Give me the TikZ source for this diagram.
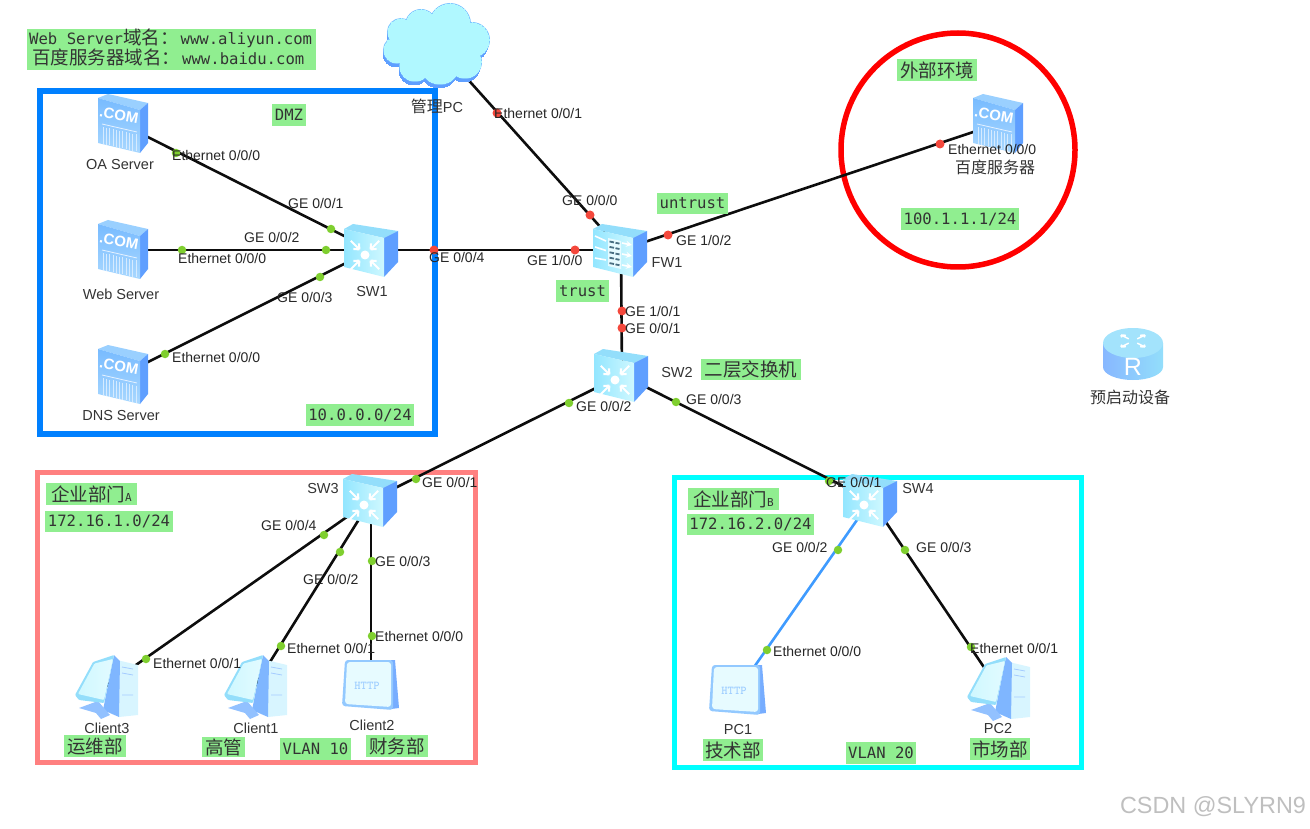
\documentclass[tikz,border=0pt]{standalone}
\usepackage{fontspec}
\setmainfont{Liberation Sans}
\newfontfamily\cjkfont{Noto Sans CJK SC}
\newfontfamily\tagfont{DejaVu Sans Mono}
\usepackage{tikz}
\usetikzlibrary{positioning}

\definecolor{dmzblue}{HTML}{0080FF}
\definecolor{outred}{HTML}{FF0000}
\definecolor{deptpink}{HTML}{FF8080}
\definecolor{deptcyan}{HTML}{00FFFF}
\definecolor{taggreen}{HTML}{90EE90}
\definecolor{portgreen}{HTML}{7FCF2F}
\definecolor{portred}{HTML}{F4483C}
\definecolor{linkblue}{HTML}{3F9BFF}
\definecolor{sideblue}{HTML}{5F9FFF}
\definecolor{topblue}{HTML}{93DEFB}
\definecolor{faceblue}{HTML}{93E6FF}
\definecolor{facepale}{HTML}{CFF8FF}
\definecolor{srvtop}{HTML}{9AD0FF}
\definecolor{srvface}{HTML}{78BBFF}
\definecolor{srvpale}{HTML}{A9D8FF}
\definecolor{pcpale}{HTML}{D8F5FF}
\definecolor{pcmid}{HTML}{7FB6FF}
\definecolor{cloudfill}{HTML}{B0F8FF}
\definecolor{cloudedge}{HTML}{80C6FF}

\newcommand\zh[1]{{\cjkfont\fontsize{18.5}{20}\selectfont #1}}
\newcommand\zhcap[1]{{\cjkfont\fontsize{16}{16}\selectfont #1}}

\tikzset
    { chassis/.pic={
        \path[fill=topblue] (-28,-21) -- (-19,-26) -- (26,-19) -- (12,-12) -- cycle;
        \path[fill=sideblue] (12,-12) -- (26,-19) -- (26,12) -- (12,27) -- cycle;
        \path[left color=faceblue, right color=facepale] (-28,-21) -- (12,-12) -- (12,27) -- (-28,17) -- cycle;
      }
    , switchicon/.pic={
        \pic {chassis};
        \fill[white] (-7,5) circle (4.5);
        \foreach \a in {45,135,225,315}
            \draw[white, line width=2.1, shift={(-7,5)}, rotate=\a] (8,0) -- (20,0) (8,0) -- (12.5,4) (8,0) -- (12.5,-4);
      }
    , firewallicon/.pic={
        \pic {chassis};
        \fill[facepale!50!white] (-13,-12) -- (0,-9) -- (0,19) -- (-13,16) -- cycle;
        \foreach \r in {0,1,2,3,4}
            \draw[black!55!cyan, line width=1.8] (-11.5,-8.5+5.4*\r) -- (-7,-7.6+5.4*\r) (-5.5,-7.2+5.4*\r) -- (-1.5,-6.4+5.4*\r);
        \foreach \r in {0,1,2}
            \draw[white, line width=1.6, ->, >=stealth] (-26,-14+11*\r) -- (-15,-9+9.5*\r)
                                                         (1,-7+11*\r) -- (11,-5+11*\r);
      }
    , servericon/.pic={
        \path[fill=srvtop] (-24,-26) -- (-14,-30) -- (26,-21) -- (18,-14) -- cycle;
        \path[fill=sideblue] (18,-14) -- (26,-21) -- (26,19) -- (18,29) -- cycle;
        \path[top color=srvface, bottom color=srvpale] (-24,-26) -- (18,-14) -- (18,29) -- (-24,19) -- cycle;
        \node[white, rotate=-10, inner sep=0, font=\bfseries\fontsize{15}{15}\selectfont] (comtext) at (-3,-9) {.COM};
        \draw[white!80!srvface, line width=.8] (-20,0) -- (15,8);
        \foreach \s in {0,...,10}
            \draw[white!70!srvface, line width=.8] (-19+3.3*\s,3+.75*\s) -- (-19+3.3*\s,20+.75*\s);
      }
    , pcicon/.pic={
        \path[fill=pcpale] (11,-26) -- (32,-21) -- (32,29) -- (13,31) -- cycle;
        \draw[pcmid!70!white, line width=.8] (16,-19) -- (27,-17) (16,-13) -- (27,-11) (16,9) -- (27,9);
        \path[fill=pcmid] (8,-31) -- (14,-25) -- (13,31) -- (-3,24) -- cycle;
        \path[fill=pcmid!85!white] (-27,22) -- (-8,15) -- (4,29) -- (-5,33) -- (-10,27) -- cycle;
        \path[fill=topblue, rounded corners=1] (-31,9) -- (-13,-24) -- (8,-31) -- (-2,17) -- (-27,14) -- cycle;
        \path[left color=facepale, right color=facepale!60!white, rounded corners=1] (-28,8) -- (-11.5,-22.5) -- (7,-27) -- (-2,14) -- cycle;
      }
    , httpicon/.pic={
        \path[fill=sideblue!85!white] (20,-25) -- (24,-25) -- (28,23) -- (20,24) -- cycle;
        \path[fill=srvface!80!white, rounded corners=3] (-26,-25) -- (22,-25) -- (22,25) -- (-29,21) -- cycle;
        \path[fill=facepale!50!white, rounded corners=3] (-24,-23) -- (20,-23) -- (20,22) -- (-26,19) -- cycle;
        \node[srvface!70!white, inner sep=0, font=\ttfamily\bfseries\fontsize{12}{12}\selectfont] (httptext) at (-4,1) {HTTP};
      }
    , cloudicon/.pic={
        \foreach \dx/\dy/\col/\wid in {-1/4/sideblue/0,0/0/cloudedge/2,0/0/cloudfill/0}
            \foreach \cx/\cy/\r in {13/-21/20,-16/-20/15,-36/-13/13,-40/5/13,-22/21/15,3/20/19,28/17/16,35/-5/17,0/0/30}
                \path[fill=\col, draw=\col, line width=\wid] (\cx+\dx,\cy+\dy) circle (\r);
      }
    , routericon/.pic={
        \path[left color=sideblue!75!white, right color=topblue] (-30,-11) -- (-30,13) arc[start angle=180, end angle=0, x radius=30, y radius=13] -- (30,-11) -- cycle;
        \path[fill=topblue!85!white] (0,-11) ellipse [x radius=30, y radius=15];
        \foreach \a in {45,135,225,315}
            \draw[white, line width=1.5, yscale=.5, shift={(0,-26)}, rotate=\a] (6,0) -- (17,0) (17,0) -- (13,3) (17,0) -- (13,-3);
        \node[white, inner sep=0, font=\fontsize{25}{25}\selectfont] (rtext) at (0,13) {R};
      }
    }

\begin{document}
\begin{tikzpicture}
        [ x=1pt, y=-1pt
        , device/.style={inner sep=0, minimum width=#1, minimum height=#1}
        , link/.style={draw=black!95, line width=2.6}
        , greendot/.style={circle, fill=portgreen, inner sep=0, minimum size=8.5}
        , reddot/.style={circle, fill=portred, inner sep=0, minimum size=9}
        , portlabel/.style={anchor=west, inner sep=0, text=black!85, font=\fontsize{14}{16}\selectfont}
        , caption/.style={inner sep=0, text=black!80, font=\fontsize{14.5}{16}\selectfont}
        , tagbox/.style={fill=taggreen, inner sep=0, text=black!80, font=\tagfont\fontsize{15.6}{20}\selectfont}
        , frame/.style={draw=#1, line width=5.5}
        ]
                \useasboundingbox (0,0) rectangle (1310,829);

                \node[frame=dmzblue, inner sep=0, minimum width=395, minimum height=343] (dmzframe) at (237.5,262.5) {};
                \node[frame=deptpink, inner sep=0, minimum width=438, minimum height=290] (aframe) at (256.5,617.5) {};
                \node[frame=deptcyan, inner sep=0, minimum width=407, minimum height=290] (bframe) at (878,622.5) {};
                \node[circle, frame=outred, inner sep=0, minimum size=234] (outframe) at (958,150) {};

                \node[device=52, minimum height=58] (oa) at (122,124) {};
                \node[device=52, minimum height=58] (web) at (122,250) {};
                \node[device=52, minimum height=58] (dns) at (122,375) {};
                \node[device=52, minimum height=58] (baidu) at (997,124) {};
                \node[device=54] (sw1) at (372,250) {};
                \node[device=54] (fw1) at (621,250) {};
                \node[device=54] (sw2) at (622,375) {};
                \node[device=54] (sw3) at (371,500) {};
                \node[device=54] (sw4) at (871,500) {};
                \node[device=62] (client3) at (106,686) {};
                \node[device=62] (client1) at (255,686) {};
                \node[device=50] (client2) at (371,685) {};
                \node[device=50] (pc1) at (738,690) {};
                \node[device=62] (pc2) at (998,688) {};
                \node[device=70, minimum width=106] (cloud) at (437,45) {};
                \node[device=52, minimum width=60] (router) at (1133,354) {};

                \draw[link] (oa.center) -- (sw1.center);
                \draw[link] (web.center) -- (sw1.center);
                \draw[link] (dns.center) -- (sw1.center);
                \draw[link] (sw1.center) -- (fw1.center);
                \draw[link] (cloud.center) -- (fw1.center);
                \draw[link] (fw1.center) -- (baidu.center);
                \draw[link] (fw1.center) -- (sw2.center);
                \draw[link] (sw2.center) -- (sw3.center);
                \draw[link] (sw2.center) -- (sw4.center);
                \draw[link] (sw3.center) -- (client3.center);
                \draw[link] (sw3.center) -- (client1.center);
                \draw[link] (sw3.center) -- (client2.center);
                \draw[link, draw=linkblue] (sw4.center) -- (pc1.center);
                \draw[link] (sw4.center) -- (pc2.center);

                \pic at (oa) {servericon};
                \pic at (web) {servericon};
                \pic at (dns) {servericon};
                \pic at (baidu) {servericon};
                \pic at (sw1) {switchicon};
                \pic at (fw1) {firewallicon};
                \pic at (sw2) {switchicon};
                \pic at (sw3) {switchicon};
                \pic at (sw4) {switchicon};
                \pic at (client3) {pcicon};
                \pic at (client1) {pcicon};
                \pic at (client2) {httpicon};
                \pic at (pc1) {httpicon};
                \pic at (pc2) {pcicon};
                \pic at (cloud) {cloudicon};
                \pic at (router) {routericon};

                \node[greendot] (d1) at (176,153) {};
                \node[greendot] (d2) at (331,229) {};
                \node[greendot] (d3) at (182,250) {};
                \node[greendot] (d4) at (326,250) {};
                \node[greendot] (d5) at (320,277) {};
                \node[greendot] (d6) at (165,354) {};
                \node[greendot] (d7) at (569,403) {};
                \node[greendot] (d8) at (676,402) {};
                \node[greendot] (d9) at (416,479) {};
                \node[greendot] (d10) at (324,535) {};
                \node[greendot] (d11) at (340,552) {};
                \node[greendot] (d12) at (372,561) {};
                \node[greendot] (d13) at (146,659) {};
                \node[greendot] (d14) at (281,646) {};
                \node[greendot] (d15) at (372,636) {};
                \node[greendot] (d16) at (829,481) {};
                \node[greendot] (d17) at (838,550) {};
                \node[greendot] (d18) at (905,550) {};
                \node[greendot] (d19) at (767,650) {};
                \node[greendot] (d20) at (971,647) {};
                \node[reddot] (r1) at (497,113) {};
                \node[reddot] (r2) at (590,215) {};
                \node[reddot] (r3) at (434,250) {};
                \node[reddot] (r4) at (575,250) {};
                \node[reddot] (r5) at (668,235) {};
                \node[reddot] (r6) at (622,311) {};
                \node[reddot] (r7) at (622,328) {};
                \node[reddot] (r8) at (940,144) {};

                \node[portlabel] (p1) at (172,155) {Ethernet 0/0/0};
                \node[portlabel] (p2) at (288,203) {GE 0/0/1};
                \node[portlabel] (p3) at (244,237) {GE 0/0/2};
                \node[portlabel] (p4) at (178,258) {Ethernet 0/0/0};
                \node[portlabel] (p5) at (277,297) {GE 0/0/3};
                \node[portlabel] (p6) at (172,357) {Ethernet 0/0/0};
                \node[portlabel] (p7) at (429,257) {GE 0/0/4};
                \node[portlabel] (p8) at (527,260) {GE 1/0/0};
                \node[portlabel] (p9) at (562,200) {GE 0/0/0};
                \node[portlabel] (p10) at (676,240) {GE 1/0/2};
                \node[portlabel] (p11) at (625,311) {GE 1/0/1};
                \node[portlabel] (p12) at (625,328) {GE 0/0/1};
                \node[portlabel] (p13) at (494,113) {Ethernet 0/0/1};
                \node[portlabel] (p14) at (948,149) {Ethernet 0/0/0};
                \node[portlabel] (p15) at (576,406) {GE 0/0/2};
                \node[portlabel] (p16) at (686,399) {GE 0/0/3};
                \node[portlabel] (p17) at (422,482) {GE 0/0/1};
                \node[portlabel] (p18) at (261,525) {GE 0/0/4};
                \node[portlabel] (p19) at (303,579) {GE 0/0/2};
                \node[portlabel] (p20) at (375,561) {GE 0/0/3};
                \node[portlabel] (p21) at (153,663) {Ethernet 0/0/1};
                \node[portlabel] (p22) at (287,648) {Ethernet 0/0/1};
                \node[portlabel] (p23) at (375,636) {Ethernet 0/0/0};
                \node[portlabel] (p24) at (826,482) {GE 0/0/1};
                \node[portlabel] (p25) at (772,547) {GE 0/0/2};
                \node[portlabel] (p26) at (916,547) {GE 0/0/3};
                \node[portlabel] (p27) at (773,651) {Ethernet 0/0/0};
                \node[portlabel] (p28) at (970,648) {Ethernet 0/0/1};

                \node[caption] (oaname) at (120,165) {OA Server};
                \node[caption] (webname) at (121,294) {Web Server};
                \node[caption] (dnsname) at (121,416) {DNS Server};
                \node[caption] (sw1name) at (372,292) {SW1};
                \node[caption] (fw1name) at (667,263) {FW1};
                \node[caption] (sw2name) at (677,373) {SW2};
                \node[caption] (sw3name) at (323,489) {SW3};
                \node[caption] (sw4name) at (918,489) {SW4};
                \node[caption] (client3name) at (107,728) {Client3};
                \node[caption] (client1name) at (256,728) {Client1};
                \node[caption] (client2name) at (372,725) {Client2};
                \node[caption] (pc1name) at (738,730) {PC1};
                \node[caption] (pc2name) at (998,729) {PC2};
                \node[caption] (cloudname) at (437,106) {\zhcap{管理}PC};
                \node[caption] (baiduname) at (995,167) {\zhcap{百度服务器}};
                \node[caption] (routername) at (1130,397) {\zhcap{预启动设备}};

                \node[tagbox, minimum width=289, minimum height=41] (domains) at (171.5,49.5) {};
                \node[tagbox, fill=none, anchor=west, align=left] (domaintext) at (29,47.5) {Web Server\zh{域名：}\hspace{2pt}www.aliyun.com\\\hspace{3pt}\zh{百度服务器域名：}\hspace{2pt}www.baidu.com};
                \node[tagbox, minimum width=34, minimum height=22] (dmz) at (289,115) {DMZ};
                \node[tagbox, minimum width=71, minimum height=21] (untrust) at (692.5,203.5) {untrust};
                \node[tagbox, minimum width=53, minimum height=22] (trust) at (582.5,291) {trust};
                \node[tagbox, minimum width=80, minimum height=22] (outside) at (937,70) {\zh{外部环境}};
                \node[tagbox, minimum width=118, minimum height=22] (outnet) at (960,219) {100.1.1.1/24};
                \node[tagbox, minimum width=108, minimum height=22] (dmznet) at (360,415) {10.0.0.0/24};
                \node[tagbox, minimum width=100, minimum height=21] (layer2) at (751,369.5) {\zh{二层交换机}};
                \node[tagbox, minimum width=91, minimum height=22] (depta) at (91.5,494) {\zh{企业部门}{\fontsize{11}{11}\selectfont A}};
                \node[tagbox, minimum width=128, minimum height=21] (aneta) at (109,521.5) {172.16.1.0/24};
                \node[tagbox, minimum width=91, minimum height=22] (deptb) at (733.5,499) {\zh{企业部门}{\fontsize{11}{11}\selectfont B}};
                \node[tagbox, minimum width=127, minimum height=21] (anetb) at (750.5,524.5) {172.16.2.0/24};
                \node[tagbox, minimum width=62, minimum height=22] (ops) at (95,746) {\zh{运维部}};
                \node[tagbox, minimum width=43, minimum height=20] (mgmt) at (223.5,747) {\zh{高管}};
                \node[tagbox, minimum width=71, minimum height=22] (vlana) at (315.5,749) {VLAN 10};
                \node[tagbox, minimum width=62, minimum height=22] (finance) at (397,746) {\zh{财务部}};
                \node[tagbox, minimum width=60, minimum height=22] (tech) at (733,750) {\zh{技术部}};
                \node[tagbox, minimum width=70, minimum height=22] (vlanb) at (881,753) {VLAN 20};
                \node[tagbox, minimum width=60, minimum height=22] (market) at (1000,749) {\zh{市场部}};

                \node[inner sep=0, text=black!25, font=\fontsize{23.4}{25}\selectfont] (mark) at (1213,807) {CSDN @SLYRN9};
        \end{tikzpicture}
\end{document}
